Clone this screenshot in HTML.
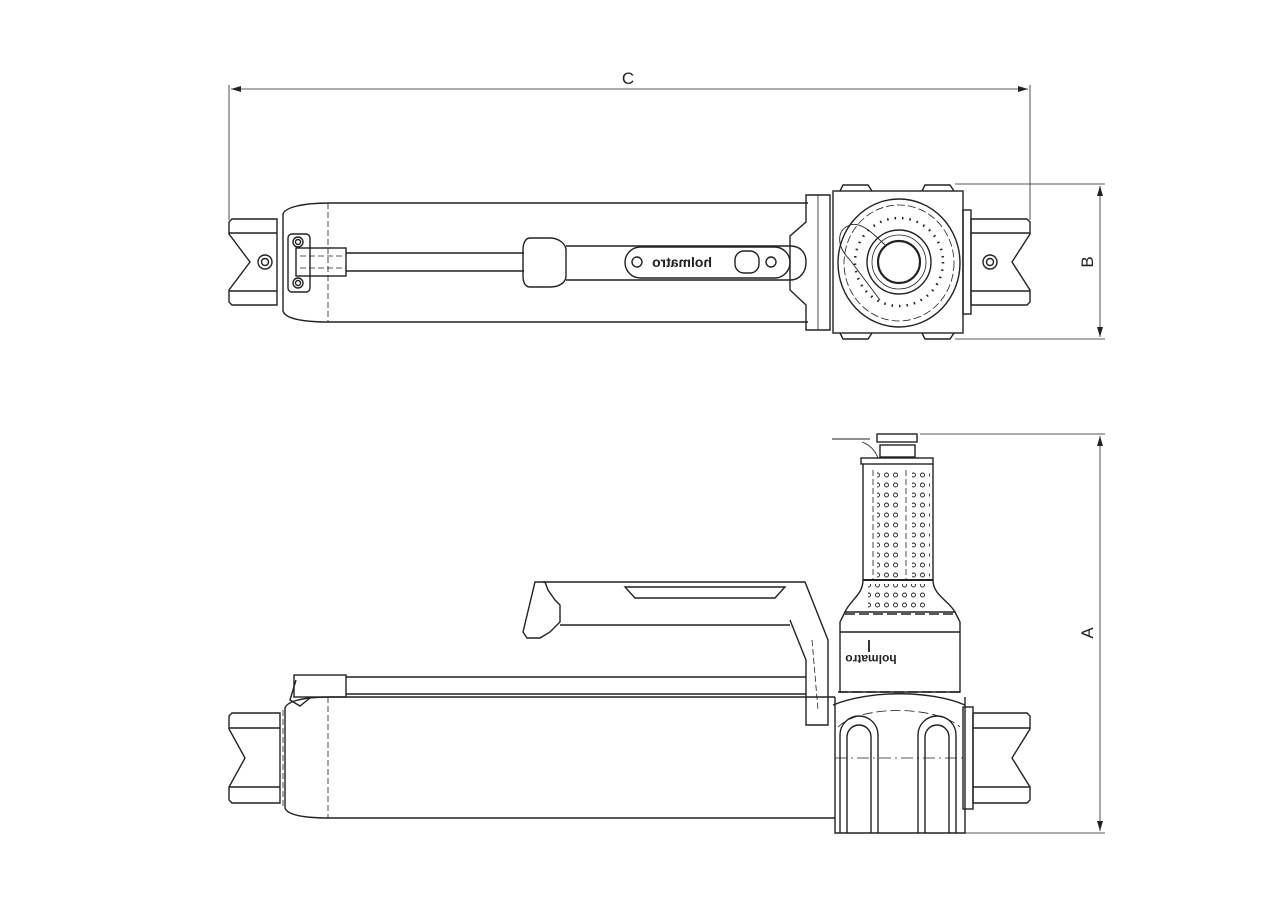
<!DOCTYPE html>
<html><head><meta charset="utf-8"><style>
html,body{margin:0;padding:0;background:#fff;}
svg{display:block;}
text{font-family:"Liberation Sans",sans-serif;}
</style></head><body>
<svg width="1280" height="905" viewBox="0 0 1280 905" xmlns="http://www.w3.org/2000/svg">
<defs>
<marker id="ar" viewBox="0 0 10 6" refX="10" refY="3" markerWidth="10" markerHeight="6" orient="auto-start-reverse" markerUnits="userSpaceOnUse"><path d="M0,0 L10,3 L0,6 z" fill="#222"/></marker>
<pattern id="holes" x="0" y="0" width="9" height="10" patternUnits="userSpaceOnUse"><circle cx="4.5" cy="5" r="2" fill="none" stroke="#222" stroke-width="0.9"/></pattern>
</defs>
<g fill="none" stroke="#222" stroke-width="1.4">
<!-- Dimension C -->
<line x1="229" y1="85" x2="229" y2="220" stroke-width="0.8"/>
<line x1="1030" y1="85" x2="1030" y2="220" stroke-width="0.8"/>
<line x1="231" y1="89" x2="1028" y2="89" stroke-width="0.8" marker-start="url(#ar)" marker-end="url(#ar)"/>
<!-- Dimension B -->
<line x1="955" y1="184" x2="1105" y2="184" stroke-width="0.8"/>
<line x1="955" y1="339" x2="1105" y2="339" stroke-width="0.8"/>
<line x1="1100" y1="186" x2="1100" y2="337" stroke-width="0.8" marker-start="url(#ar)" marker-end="url(#ar)"/>
<!-- Dimension A -->
<line x1="920" y1="434" x2="1105" y2="434" stroke-width="0.8"/>
<line x1="955" y1="833" x2="1105" y2="833" stroke-width="0.8"/>
<line x1="1100" y1="436" x2="1100" y2="831" stroke-width="0.8" marker-start="url(#ar)" marker-end="url(#ar)"/>

<!-- ===== TOP VIEW ===== -->
<path d="M232,219 L277,219 L277,305 L232,305 L229,302 L229,290 L250,262 L229,234 L229,222 Z"/>
<line x1="229" y1="233" x2="277" y2="233"/><line x1="229" y1="291" x2="277" y2="291"/>
<circle cx="265" cy="262" r="7"/><circle cx="265" cy="262" r="3.5"/>
<path d="M330,203 L808,203 M330,322 L808,322 M330,203 C300,203 285,208 283,214 L283,311 C285,318 300,322 330,322"/>
<line x1="328" y1="203" x2="328" y2="322" stroke-dasharray="6,3" stroke-width="0.8"/>
<rect x="288" y="234" width="22" height="58" rx="4"/>
<circle cx="298" cy="242" r="5"/><circle cx="298" cy="242" r="2.5"/>
<circle cx="298" cy="283" r="5"/><circle cx="298" cy="283" r="2.5"/>
<rect x="296" y="248" width="50" height="28"/>
<line x1="300" y1="256" x2="346" y2="256" stroke-dasharray="6,3" stroke-width="0.8"/>
<line x1="300" y1="268" x2="346" y2="268" stroke-dasharray="6,3" stroke-width="0.8"/>
<line x1="346" y1="253" x2="524" y2="253"/><line x1="346" y1="271" x2="524" y2="271"/>
<path d="M530,238 L550,238 C560,238 566,245 566,250 L566,276 C566,282 560,287 550,287 L530,287 C525,287 523,282 523,276 L523,250 C523,244 525,238 530,238 Z"/>
<path d="M566,246 L790,246 C800,246 806,252 806,262 C806,272 800,280 790,280 L566,280"/>
<rect x="625" y="247" width="165" height="31" rx="15.5"/>
<circle cx="637" cy="262" r="5"/>
<rect x="735" y="251" width="24" height="22" rx="9"/>
<circle cx="771" cy="262" r="5"/>
<path d="M806,195 L830,195 L830,330 L806,330 L806,305 L790,290 L790,236 L806,222 Z"/>
<line x1="818" y1="195" x2="818" y2="330" stroke-width="0.8"/>
<rect x="833" y="191" width="130" height="142"/>
<path d="M840,191 L843,185 L868,185 L872,191 M922,191 L925,185 L950,185 L954,191"/>
<path d="M840,333 L843,339 L868,339 L872,333 M922,333 L925,339 L950,339 L954,333"/>
<ellipse cx="899" cy="263" rx="61" ry="64"/>
<ellipse cx="899" cy="263" rx="55" ry="58" stroke-dasharray="8,3" stroke-width="0.8"/>
<circle cx="899" cy="262" r="32"/>
<circle cx="899" cy="262" r="27" stroke-width="0.8"/>
<circle cx="899" cy="262" r="21" stroke-width="2.2"/>
<path d="M848,226 C838,230 835,245 850,260 L880,300 M848,226 C858,220 870,230 885,245" stroke-width="0.9"/>
<circle cx="899" cy="262" r="44" stroke-dasharray="1.5,6" stroke-width="2.5"/>
<rect x="963" y="210" width="8" height="104"/>
<path d="M971,219 L1027,219 L1030,222 L1030,234 L1012,262 L1030,290 L1030,302 L1027,305 L971,305 Z"/>
<line x1="971" y1="233" x2="1030" y2="233"/><line x1="971" y1="291" x2="1030" y2="291"/>
<circle cx="990" cy="262" r="7"/><circle cx="990" cy="262" r="3.5"/>

<!-- ===== SIDE VIEW ===== -->
<path d="M232,713 L280,713 L280,803 L232,803 L229,800 L229,787 L245,758 L229,729 L229,716 Z"/>
<line x1="229" y1="728" x2="280" y2="728"/><line x1="229" y1="787" x2="280" y2="787"/>
<line x1="283" y1="710" x2="283" y2="808" stroke-dasharray="6,3" stroke-width="0.8"/>
<path d="M330,697 L835,697 M330,818 L835,818 M330,697 C300,697 287,702 285,708 L285,808 C287,814 300,818 330,818"/>
<line x1="328" y1="697" x2="328" y2="818" stroke-dasharray="6,3" stroke-width="0.8"/>
<rect x="294" y="675" width="52" height="22"/>
<line x1="346" y1="677" x2="806" y2="677"/><line x1="346" y1="694" x2="806" y2="694"/>
<path d="M296,680 L290,700 L300,706 L310,698" />
<path d="M535,582 L545,582 L548,590 L555,600 L560,605 L560,622 L550,632 L540,638 L527,638 L523,632 Z"/>
<line x1="543" y1="582" x2="795" y2="582"/><line x1="560" y1="625" x2="790" y2="625"/>
<path d="M625,587 L785,587 L775,598 L635,598 Z"/>
<path d="M795,582 L805,582 L828,640 L828,725 L806,725 L806,660 L790,620"/>
<line x1="812" y1="640" x2="818" y2="710" stroke-dasharray="6,3" stroke-width="0.8"/>
<rect x="877" y="434" width="40" height="8"/>
<rect x="880" y="445" width="35" height="12"/>
<path d="M832,439 L870,439 M862,442 C870,445 875,450 878,458" stroke-width="0.9"/>
<rect x="861" y="458" width="72" height="6"/>
<path d="M863,464 L863,580 C863,595 850,600 845,612 L955,612 C948,600 933,595 933,580 L933,464"/>
<rect x="877" y="470" width="24" height="112" fill="url(#holes)" stroke="none"/>
<rect x="912" y="470" width="18" height="112" fill="url(#holes)" stroke="none"/>
<rect x="868" y="584" width="60" height="26" fill="url(#holes)" stroke="none"/>
<line x1="873" y1="470" x2="873" y2="580" stroke-dasharray="6,3" stroke-width="0.8"/>
<line x1="906" y1="470" x2="906" y2="580" stroke-dasharray="6,3" stroke-width="0.8"/>
<line x1="863" y1="580" x2="933" y2="580" stroke-width="2"/>
<path d="M845,612 L840,622 L840,692 L960,692 L960,622 L955,612"/>
<line x1="845" y1="614" x2="955" y2="614" stroke-dasharray="10,4" stroke-width="1.5"/>
<line x1="840" y1="632" x2="960" y2="632"/>
<line x1="838" y1="692" x2="962" y2="692" stroke-dasharray="10,4" stroke-width="1.5"/>
<line x1="869" y1="640" x2="869" y2="652" stroke-width="1.8"/>
<path d="M835,697 L835,833 L965,833 L965,697"/>
<path d="M833,705 C870,690 930,690 965,705"/>
<path d="M838,727 C860,705 935,705 960,727" stroke-dasharray="10,4" stroke-width="0.8"/>
<path d="M840,833 L840,735 A19,19 0 0 1 878,735 L878,833"/>
<path d="M847,833 L847,737 A12,12 0 0 1 871,737 L871,833"/>
<path d="M918,833 L918,735 A19,19 0 0 1 956,735 L956,833"/>
<path d="M925,833 L925,737 A12,12 0 0 1 949,737 L949,833"/>
<line x1="835" y1="758" x2="965" y2="758" stroke-dasharray="12,4,2,4" stroke-width="0.8"/>
<rect x="963" y="707" width="10" height="102"/>
<path d="M973,713 L1027,713 L1030,716 L1030,729 L1012,758 L1030,787 L1030,800 L1027,803 L973,803 Z"/>
<line x1="973" y1="728" x2="1030" y2="728"/><line x1="973" y1="787" x2="1030" y2="787"/>
</g>
<g fill="#222">
<text x="628" y="84" font-size="17" text-anchor="middle">C</text>
<text transform="translate(1093,262) rotate(-90)" font-size="17" text-anchor="middle">B</text>
<text transform="translate(1093,633) rotate(-90)" font-size="17" text-anchor="middle">A</text>
<text transform="translate(682,267) scale(-1,1)" font-size="14" font-weight="bold" text-anchor="middle">holmatro</text>
<text transform="translate(871,655) rotate(180)" font-size="12" font-weight="bold" text-anchor="middle">holmatro</text>
</g>
</svg>
</body></html>
